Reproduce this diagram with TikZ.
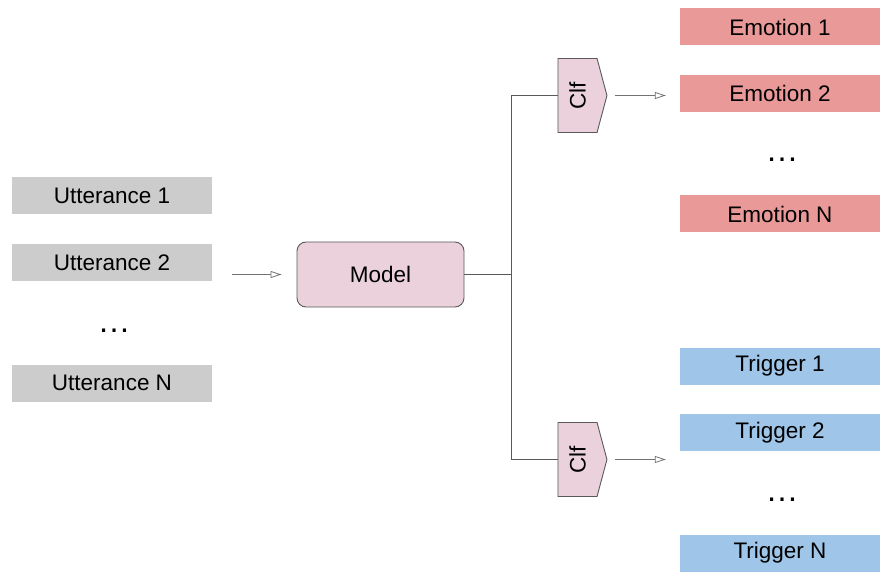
\documentclass[tikz,border=0pt]{standalone}
\usepackage{fontspec}
\setmainfont{Liberation Sans}
\usetikzlibrary{shapes.symbols,arrows.meta}
\definecolor{uttgray}{HTML}{CCCCCC}
\definecolor{emored}{HTML}{EA9999}
\definecolor{trgblue}{HTML}{9FC5E8}
\definecolor{modpink}{HTML}{EAD1DC}
\definecolor{linegray}{HTML}{595959}
\tikzset{
  box/.style={minimum width=200pt,minimum height=37pt,inner sep=0pt,font=\fontsize{22.5}{27}\selectfont},
  utt/.style={box,fill=uttgray},
  emo/.style={box,fill=emored},
  trg/.style={box,fill=trgblue},
  dots/.style={inner sep=0pt,font=\fontsize{33}{36}\selectfont},
  clf/.style={signal,signal to=east,signal pointer angle=150,draw=linegray,line width=0.9pt,fill=modpink,
    minimum width=49pt,minimum height=74pt,inner sep=0pt,font=\fontsize{22.5}{27}\selectfont},
  arr/.style={draw=linegray!85,line width=0.8pt,-{Triangle[open,length=11pt,width=7pt,fill=white]}}
}
\begin{document}
\begin{tikzpicture}[x=1pt,y=-1pt]
      \useasboundingbox (0,0) rectangle (892,580);
      \node[utt] (U1) at (112,196) {Utterance 1};
      \node[utt] (U2) at (112,263) {Utterance 2};
      \node[dots] (UD) at (114,331) {…};
      \node[utt] (UN) at (112,383) {Utterance N};

      \node[draw=linegray,line width=0.9pt,fill=modpink,rounded corners=9pt,minimum width=167pt,minimum height=65pt,
        font=\fontsize{22.5}{27}\selectfont] (M) at (380.5,274.5) {Model};

      \node[clf] (C1) at (577.5,95.5) {\rotatebox{90}{Clf}};
      \node[clf] (C2) at (577.5,459.5) {\rotatebox{90}{Clf}};

      \node[emo] (E1) at (780,27) {Emotion 1};
      \node[emo] (E2) at (780,93.5) {Emotion 2};
      \node[dots] (ED) at (782,160) {…};
      \node[emo] (EN) at (780,214) {Emotion N};

      \node[trg] (T1) at (780,366) {Trigger 1};
      \node[trg] (T2) at (780,432.5) {Trigger 2};
      \node[dots] (TD) at (782,500) {…};
      \node[trg] (TN) at (780,553) {Trigger N};

      \coordinate (I) at (232,274.5);
      \coordinate (J) at (511.5,274.5);

      \draw[arr,shorten >=15pt] (I) -- (M);
      \draw[linegray,line width=1pt] (M) -- (J);
      \draw[linegray,line width=1pt] (C1.west) -| (J) |- (C2.west);
      \draw[arr,shorten <=8pt,shorten >=14pt] (C1.east) -- (C1.east -| E2.west);
      \draw[arr,shorten <=8pt,shorten >=14pt] (C2.east) -- (C2.east -| T2.west);
    \end{tikzpicture}
\end{document}
